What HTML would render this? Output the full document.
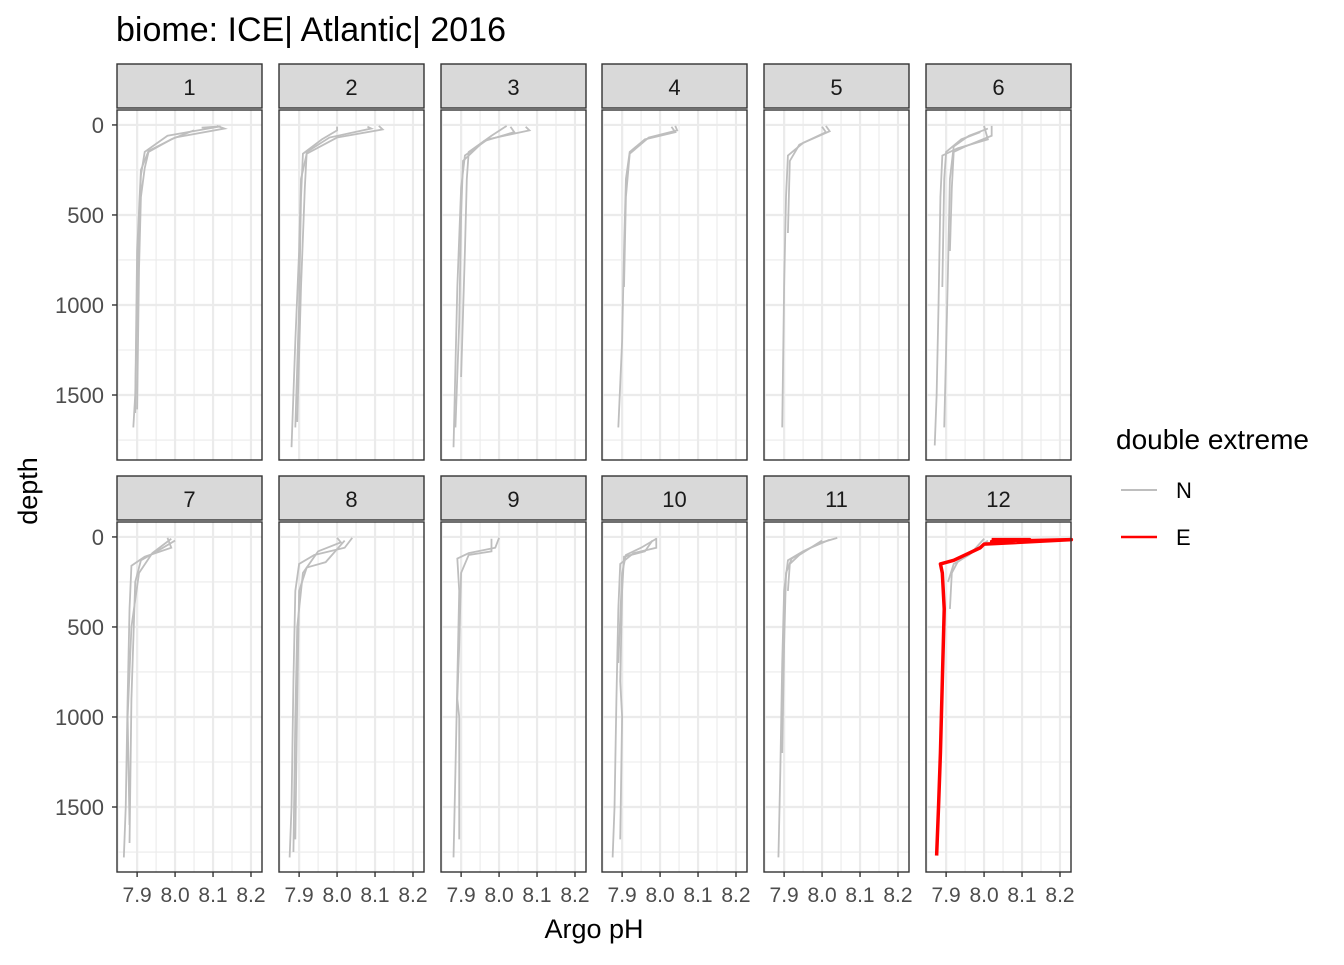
<!DOCTYPE html>
<html><head><meta charset="utf-8"><style>
body{margin:0;background:#fff;font-family:"Liberation Sans",sans-serif}
</style></head><body>
<svg id="c" width="1344" height="960" xmlns="http://www.w3.org/2000/svg" font-family="Liberation Sans, sans-serif"></svg>
<script>
const panelLabels=["1","2","3","4","5","6","7","8","9","10","11","12"];
const xTicks=[7.9,8.0,8.1,8.2];
const xTickLabels=["7.9","8.0","8.1","8.2"];
const yTicks=[0,500,1000,1500];
const yTickLabels=["0","500","1000","1500"];
// profiles per panel: arrays of [pH, depth]
const normalProfiles=[
 [[[8.07,15],[8.12,8],[7.98,60],[7.92,150],[7.91,280],[7.905,600],[7.90,1000],[7.895,1500],[7.89,1680]],
  [[8.11,5],[8.13,20],[8.00,70],[7.93,145],[7.91,250],[7.90,700],[7.897,1200],[7.895,1600]],
  [[8.05,30],[7.99,80],[7.93,150],[7.92,240],[7.91,400],[7.905,800],[7.90,1580]]],
 [[[8.11,5],[8.12,25],[8.00,70],[7.92,160],[7.905,300],[7.90,700],[7.89,1200],[7.88,1790]],
  [[8.00,10],[8.00,30],[7.96,80],[7.91,160],[7.905,400],[7.90,1000],[7.89,1680]],
  [[8.08,10],[8.09,20],[7.98,70],[7.92,150],[7.915,350],[7.905,900],[7.895,1650]]],
 [[[8.07,10],[8.08,30],[7.97,80],[7.91,170],[7.90,350],[7.89,900],[7.88,1790]],
  [[8.03,10],[8.04,40],[7.96,90],[7.905,200],[7.90,500],[7.895,1100],[7.885,1680]],
  [[8.02,5],[7.98,60],[7.92,150],[7.915,300],[7.91,700],[7.90,1400]]],
 [[[8.03,10],[8.04,40],[7.96,80],[7.92,150],[7.91,300],[7.905,700],[7.90,1200],[7.89,1680]],
  [[8.04,5],[8.045,30],[7.97,70],[7.92,160],[7.91,400],[7.905,900]]],
 [[[8.01,5],[8.02,35],[7.95,100],[7.91,170],[7.905,400],[7.90,900],[7.895,1680]],
  [[8.00,10],[8.01,40],[7.94,110],[7.915,200],[7.91,600]]],
 [[[8.00,5],[8.01,80],[7.93,130],[7.89,170],[7.885,400],[7.88,1000],[7.875,1500],[7.87,1780]],
  [[8.01,20],[7.96,60],[7.92,120],[7.91,300],[7.905,800],[7.90,1250],[7.895,1680]],
  [[8.02,5],[8.02,60],[7.95,120],[7.92,150],[7.915,350],[7.91,700]],
  [[7.99,40],[7.94,80],[7.90,150],[7.895,300],[7.89,900]]],
 [[[7.98,5],[7.99,60],[7.92,110],[7.885,160],[7.88,400],[7.875,900],[7.87,1500],[7.865,1780]],
  [[8.00,20],[7.96,70],[7.91,130],[7.895,250],[7.885,900],[7.88,1700]],
  [[7.99,10],[7.94,90],[7.905,200],[7.885,500],[7.875,1000],[7.88,1600]]],
 [[[8.04,5],[8.02,60],[7.94,100],[7.90,150],[7.89,300],[7.885,800],[7.88,1500],[7.875,1780]],
  [[8.00,5],[8.01,30],[7.95,80],[7.91,200],[7.895,500],[7.89,1000],[7.885,1750]],
  [[8.02,20],[7.97,140],[7.92,170],[7.90,300],[7.895,900],[7.89,1680]]],
 [[[8.00,5],[7.99,60],[7.92,90],[7.89,120],[7.895,300],[7.89,800],[7.885,1300],[7.88,1780]],
  [[7.98,10],[7.98,80],[7.92,100],[7.90,200],[7.895,600],[7.89,900],[7.895,1000],[7.895,1680]]],
 [[[7.99,5],[7.99,60],[7.93,90],[7.895,150],[7.89,400],[7.885,900],[7.88,1500],[7.875,1780]],
  [[7.98,20],[7.96,80],[7.905,110],[7.90,300],[7.895,800],[7.90,1000],[7.895,1680]],
  [[7.99,10],[7.95,60],[7.91,100],[7.90,200],[7.89,700]]],
 [[[8.04,5],[8.00,30],[7.95,80],[7.91,130],[7.90,300],[7.895,700],[7.89,1300],[7.885,1780]],
  [[8.02,15],[7.97,60],[7.92,120],[7.905,200],[7.90,600],[7.895,1200]],
  [[8.00,20],[7.94,100],[7.915,150],[7.91,300]]],
 [[[8.00,10],[7.97,80],[7.93,140],[7.915,200],[7.91,400]],
  [[8.01,20],[7.96,100],[7.92,150],[7.905,250]]]
];
const extremeProfiles=[[],[],[],[],[],[],[],[],[],[],[],
 [[[8.02,15],[8.12,15],[8.02,25],[8.23,15],[8.00,40],[7.99,60],[7.96,90],[7.92,130],[7.885,150],[7.89,200],[7.895,400],[7.89,800],[7.885,1200],[7.88,1500],[7.875,1770]]]
];
const xMin=7.847,xMax=8.229,yMin=-83,yMax=1861;
const ns="http://www.w3.org/2000/svg",svg=document.getElementById('c');
function mk(t,a,p){const e=document.createElementNS(ns,t);for(const k in a)e.setAttribute(k,a[k]);(p||svg).appendChild(e);return e;}
const colX=[117,279,441,602,764,926],pw=145,rowStrip=[64,476],rowTop=[110,522],ph=350;
function sx(v,x0){return x0+(v-xMin)/(xMax-xMin)*pw;}
function sy(v,y0){return y0+(v-yMin)/(yMax-yMin)*ph;}
panelLabels.forEach((lab,i)=>{
 const c=i%6,r=Math.floor(i/6),x0=colX[c],y0=rowTop[r];
 const g=mk('g',{});
 
 
 const strip=mk('rect',{x:x0,y:rowStrip[r],width:pw,height:44,fill:'#d9d9d9',stroke:'#333','stroke-width':1.4},g);
 
 
 const st=mk('text',{x:x0+pw/2,y:rowStrip[r]+31,'text-anchor':'middle','font-size':22,fill:'#1a1a1a'},g);st.textContent=lab;
 
 
 mk('rect',{x:x0,y:y0,width:pw,height:ph,fill:'#fff'},g);
 [7.85,7.95,8.05,8.15].forEach(v=>mk('line',{x1:sx(v,x0),x2:sx(v,x0),y1:y0,y2:y0+ph,stroke:'#ebebeb','stroke-width':1.1},g));
 [250,750,1250,1750].forEach(v=>mk('line',{x1:x0,x2:x0+pw,y1:sy(v,y0),y2:sy(v,y0),stroke:'#ebebeb','stroke-width':1.1},g));
 xTicks.forEach(v=>mk('line',{x1:sx(v,x0),x2:sx(v,x0),y1:y0,y2:y0+ph,stroke:'#ebebeb','stroke-width':2.2},g));
 yTicks.forEach(v=>mk('line',{x1:x0,x2:x0+pw,y1:sy(v,y0),y2:sy(v,y0),stroke:'#ebebeb','stroke-width':2.2},g));
 normalProfiles[i].forEach(p=>{const l=mk('polyline',{points:p.map(d=>sx(d[0],x0)+','+sy(d[1],y0)).join(' '),fill:'none',stroke:'#bebebe','stroke-width':1.8},g);
  
  });
 extremeProfiles[i].forEach(p=>{const l=mk('polyline',{points:p.map(d=>sx(d[0],x0)+','+sy(d[1],y0)).join(' '),fill:'none',stroke:'#ff0000','stroke-width':3.5,'stroke-linejoin':'round'},g);
  
  });
 mk('rect',{x:x0,y:y0,width:pw,height:ph,fill:'none',stroke:'#333','stroke-width':1.4},g);
 if(c===0) yTicks.forEach((v,k)=>{const y=sy(v,y0);mk('line',{x1:x0-5,x2:x0,y1:y,y2:y,stroke:'#333','stroke-width':1.4},g);
  const t=mk('text',{x:x0-13,y:y+8,'text-anchor':'end','font-size':22,fill:'#4d4d4d'},g);t.textContent=yTickLabels[k];
  
  });
 if(r===1) xTicks.forEach((v,k)=>{const x=sx(v,x0);mk('line',{x1:x,x2:x,y1:y0+ph,y2:y0+ph+5,stroke:'#333','stroke-width':1.4},g);
  const t=mk('text',{x:x,y:y0+ph+30,'text-anchor':'middle','font-size':21,fill:'#4d4d4d'},g);t.textContent=xTickLabels[k];
  
  });
});
</script>
<svg width="1344" height="960" style="position:absolute;left:0;top:0" font-family="Liberation Sans, sans-serif">
<text x="116" y="41" font-size="34" fill="#000">biome: ICE| Atlantic| 2016</text>
<text x="594" y="938" font-size="27" text-anchor="middle">Argo pH</text>
<text transform="translate(37,491) rotate(-90)" font-size="27" text-anchor="middle">depth</text>
<text x="1116" y="449" font-size="28">double extreme</text>
<g><line x1="1121" x2="1157" y1="490" y2="490" stroke="#bebebe" stroke-width="2"/><text x="1176" y="498" font-size="22">N</text></g>
<g><line x1="1121" x2="1157" y1="537" y2="537" stroke="#ff0000" stroke-width="2.5"/><text x="1176" y="545" font-size="22">E</text></g>
</svg>
</body></html>
